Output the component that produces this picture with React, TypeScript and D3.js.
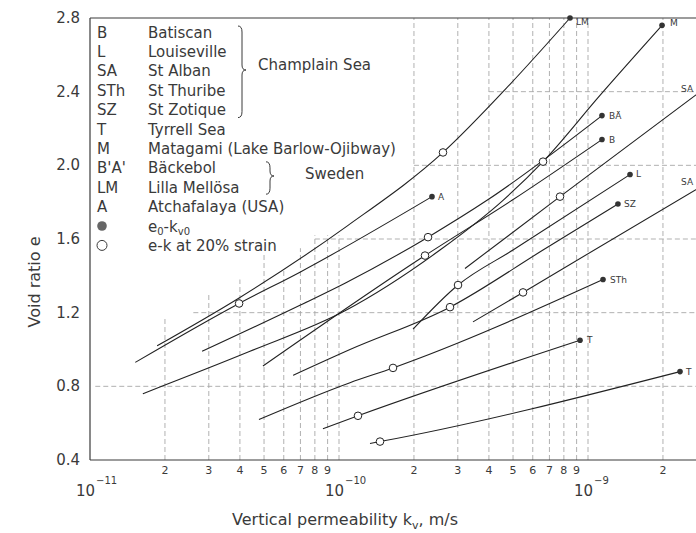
import * as d3 from "d3";

// permeability tick multipliers and decades
const minorTicks = [2, 3, 4, 5, 6, 7, 8, 9];
const decades = [-11, -10, -9];
const yTicks = [0.4, 0.8, 1.2, 1.6, 2.0, 2.4, 2.8];
const hGridValues = [0.8, 1.2, 1.6, 2.0, 2.4];

const legendCodes = ["B", "L", "SA", "STh", "SZ", "T", "M", "B'A'", "LM", "A"];
const legendNames = [
  "Batiscan",
  "Louiseville",
  "St Alban",
  "St Thuribe",
  "St Zotique",
  "Tyrrell Sea",
  "Matagami (Lake Barlow-Ojibway)",
  "Bäckebol",
  "Lilla Mellösa",
  "Atchafalaya (USA)",
];

type Pt = [number, number]; // [k (m/s), e]

// e-k curves
const curveLM: Pt[] = [[1.86e-11, 1.02], [3.97e-11, 1.28], [1.077e-10, 1.67], [2.616e-10, 2.07], [4.862e-10, 2.44], [8.467e-10, 2.8]];
const curveA: Pt[] = [[1.52e-11, 0.93], [3.97e-11, 1.25], [6.97e-11, 1.42], [2.363e-10, 1.83]];
const curveBA: Pt[] = [[2.82e-11, 0.99], [6.97e-11, 1.24], [1.057e-10, 1.36], [2.278e-10, 1.61], [3.93e-10, 1.81], [1.138e-9, 2.27]];
const curveM: Pt[] = [[1.63e-11, 0.76], [4.39e-11, 0.99], [1.057e-10, 1.21], [2.544e-10, 1.54], [4.557e-10, 1.81], [6.597e-10, 2.02], [1.117e-9, 2.38], [1.983e-9, 2.76]];
const curveB: Pt[] = [[4.95e-11, 0.91], [2.215e-10, 1.51], [4.952e-10, 1.81], [1.138e-9, 2.14]];
const curveL: Pt[] = [[1.983e-10, 1.11], [3.006e-10, 1.35], [4.998e-10, 1.54], [1.475e-9, 1.95]];
const curveSZ: Pt[] = [[6.54e-11, 0.86], [1.107e-10, 1.0], [2.791e-10, 1.23], [6.597e-10, 1.54], [1.319e-9, 1.79]];
const curveSA1: Pt[] = [[3.206e-10, 1.44], [7.719e-10, 1.83], [3.236e-9, 2.46]];
const curveSA2: Pt[] = [[3.452e-10, 1.15], [5.483e-10, 1.31], [3.236e-9, 1.93]];
const curveSTh: Pt[] = [[4.77e-11, 0.62], [1.107e-10, 0.82], [1.648e-10, 0.9], [1.149e-9, 1.38]];
const curveT1: Pt[] = [[8.62e-11, 0.57], [1.192e-10, 0.64], [9.288e-10, 1.05]];
const curveT2: Pt[] = [[1.332e-10, 0.49], [1.461e-10, 0.5], [2.342e-9, 0.88]];

// e-k at 20% strain (open circles)
const strainPoints: Pt[] = [
  [2.616e-10, 2.07], [3.97e-11, 1.25], [2.278e-10, 1.61], [6.597e-10, 2.02],
  [2.215e-10, 1.51], [3.006e-10, 1.35], [2.791e-10, 1.23], [7.719e-10, 1.83],
  [5.483e-10, 1.31], [1.648e-10, 0.9], [1.192e-10, 0.64], [1.461e-10, 0.5],
];

const curves = [
  { id: "LM", pts: curveLM, dot: true, dx: 6, dy: 7 },
  { id: "A", pts: curveA, dot: true, dx: 6, dy: 3 },
  { id: "BÄ", pts: curveBA, dot: true, dx: 7, dy: 3 },
  { id: "M", pts: curveM, dot: true, dx: 8, dy: 1 },
  { id: "B", pts: curveB, dot: true, dx: 7, dy: 3 },
  { id: "L", pts: curveL, dot: true, dx: 6, dy: 2 },
  { id: "SZ", pts: curveSZ, dot: true, dx: 6, dy: 3 },
  { id: "SA", pts: curveSA1, dot: false, dx: 0, dy: 0 },
  { id: "SA", pts: curveSA2, dot: false, dx: 0, dy: 0 },
  { id: "STh", pts: curveSTh, dot: true, dx: 7, dy: 3 },
  { id: "T", pts: curveT1, dot: true, dx: 7, dy: 3 },
  { id: "T", pts: curveT2, dot: true, dx: 6, dy: 3 },
];

const W = 696;
const H = 533;
const FONT = "'DejaVu Sans', Verdana, sans-serif";
const INK = "#3a3a3a";

// decade width about 249px, 1e-11 at x=90
const x = d3.scaleLog().domain([1e-11, 1e-9]).range([90, 588]);
const y = d3.scaleLinear().domain([0.4, 2.8]).range([460, 18]);

// tops of the first-decade grid lines (hidden behind the legend above)
const gridTopFirst = [1.18, 1.3, 1.38, 1.52, 1.44, 1.55, 1.62, 1.62, 1.62];
const hGridStart = [1.05e-11, 2.6e-11, 8e-11, 2e-10, 4e-10];

const line = d3
  .line<Pt>()
  .x((d) => x(d[0]))
  .y((d) => y(d[1]))
  .curve(d3.curveMonotoneX);

function brace(bx: number, y1: number, y2: number, ym: number, w = 4) {
  return `M${bx},${y1} Q${bx + w},${y1} ${bx + w},${y1 + 6} L${bx + w},${ym - 5} Q${bx + w},${ym} ${bx + 2 * w},${ym} Q${bx + w},${ym} ${bx + w},${ym + 5} L${bx + w},${y2 - 6} Q${bx + w},${y2} ${bx},${y2}`;
}

export default function App() {
  const vGrid: { k: number; top: number }[] = [];
  decades.forEach((d) => {
    [1, ...minorTicks].forEach((m) => {
      const k = m * Math.pow(10, d);
      if (k <= 1e-11 || x(k) > W) return;
      const top = d === -11 ? gridTopFirst[m - 2] : k === 1e-10 ? gridTopFirst[8] : 2.8;
      vGrid.push({ k, top });
    });
  });

  const minorLabels: { k: number; t: string }[] = [];
  decades.forEach((d) => {
    minorTicks.forEach((m) => {
      const k = m * Math.pow(10, d);
      if (x(k) < W - 20) minorLabels.push({ k, t: String(m) });
    });
  });

  const rowY = (i: number) => 32 + i * 19.4;

  return (
    <svg
      width={W}
      height={H}
      style={{ position: "absolute", left: 0, top: 0, background: "#fff" }}
      fontFamily={FONT}
    >
      {/* grid */}
      <g stroke="#a8a8a8" strokeWidth={0.9} strokeDasharray="5 3" fill="none">
        {vGrid.map((g, i) => (
          <line key={i} x1={x(g.k)} x2={x(g.k)} y1={y(0.4)} y2={y(g.top)} />
        ))}
        {hGridValues.map((v, i) => (
          <line key={"h" + i} x1={x(hGridStart[i])} x2={W} y1={y(v)} y2={y(v)} />
        ))}
      </g>

      {/* frame */}
      <g stroke={INK} strokeWidth={1.2} fill="none">
        <line x1={x(1e-11)} x2={W} y1={y(0.4)} y2={y(0.4)} />
        <line x1={x(1e-11)} x2={W} y1={y(2.8)} y2={y(2.8)} />
        <line x1={x(1e-11)} x2={x(1e-11)} y1={y(0.4)} y2={y(2.8)} />
      </g>

      {/* y ticks */}
      <g fontSize={15} fill={INK} textAnchor="end">
        {yTicks.map((v) => (
          <text key={v} x={80} y={y(v) + 5}>
            {v.toFixed(1)}
          </text>
        ))}
      </g>

      {/* x ticks */}
      <g fontSize={11} fill={INK} textAnchor="middle">
        {minorLabels.map((d, i) => (
          <text key={i} x={x(d.k)} y={474}>
            {d.t}
          </text>
        ))}
      </g>
      <g fill={INK}>
        {decades.map((d) => (
          <g key={d}>
            <text x={x(Math.pow(10, d)) + 5} y={496} fontSize={15} textAnchor="end">
              10
            </text>
            <text x={x(Math.pow(10, d)) + 6} y={484} fontSize={10}>
              {String(d).replace("-", "\u2212")}
            </text>
          </g>
        ))}
      </g>

      {/* axis titles */}
      <text x={232} y={525} fontSize={16} fill={INK}>
        Vertical permeability k
        <tspan fontSize={11} dy={4}>v</tspan>
        <tspan dy={-4}>, m/s</tspan>
      </text>
      <text transform="translate(40,282) rotate(-90)" fontSize={16} fill={INK} textAnchor="middle">
        Void ratio e
      </text>

      {/* curves */}
      <g fill="none" stroke="#222" strokeWidth={1.1}>
        {curves.map((c, i) => (
          <path key={i} d={line(c.pts) ?? ""} />
        ))}
      </g>
      {strainPoints.map((p, i) => (
        <circle key={i} cx={x(p[0])} cy={y(p[1])} r={3.8} fill="#fff" stroke="#222" strokeWidth={1} />
      ))}
      {curves
        .filter((c) => c.dot)
        .map((c, i) => {
          const p = c.pts[c.pts.length - 1];
          return (
            <g key={i}>
              <circle cx={x(p[0])} cy={y(p[1])} r={2.8} fill="#333" />
              <text x={x(p[0]) + c.dx} y={y(p[1]) + c.dy} fontSize={9} fill={INK}>
                {c.id}
              </text>
            </g>
          );
        })}
      <text x={681} y={92} fontSize={9} fill={INK}>SA</text>
      <text x={681} y={185} fontSize={9} fill={INK}>SA</text>

      {/* legend */}
      <g fontSize={15} fill={INK}>
        {legendCodes.map((c, i) => (
          <text key={c} x={97} y={rowY(i) + 5.5}>
            {c}
          </text>
        ))}
        {legendNames.map((n, i) => (
          <text key={n} x={148} y={rowY(i) + 5.5}>
            {n}
          </text>
        ))}
        <circle cx={102} cy={rowY(10)} r={4.8} fill="#666" />
        <circle cx={102} cy={rowY(11)} r={5} fill="none" stroke={INK} strokeWidth={1} />
        <text x={148} y={rowY(10) + 5.5}>
          e<tspan fontSize={10} dy={3}>0</tspan>
          <tspan dy={-3}>-k</tspan>
          <tspan fontSize={10} dy={3}>v0</tspan>
        </text>
        <text x={148} y={rowY(11) + 5.5}>e-k at 20% strain</text>
        <text x={258} y={70}>Champlain Sea</text>
        <text x={305} y={179}>Sweden</text>
      </g>
      <g fill="none" stroke={INK} strokeWidth={1}>
        <path d={brace(238, rowY(0) - 6, rowY(4) + 8, 70)} />
        <path d={brace(266, rowY(7) - 6, rowY(8) + 7, 176)} />
      </g>
    </svg>
  );
}
